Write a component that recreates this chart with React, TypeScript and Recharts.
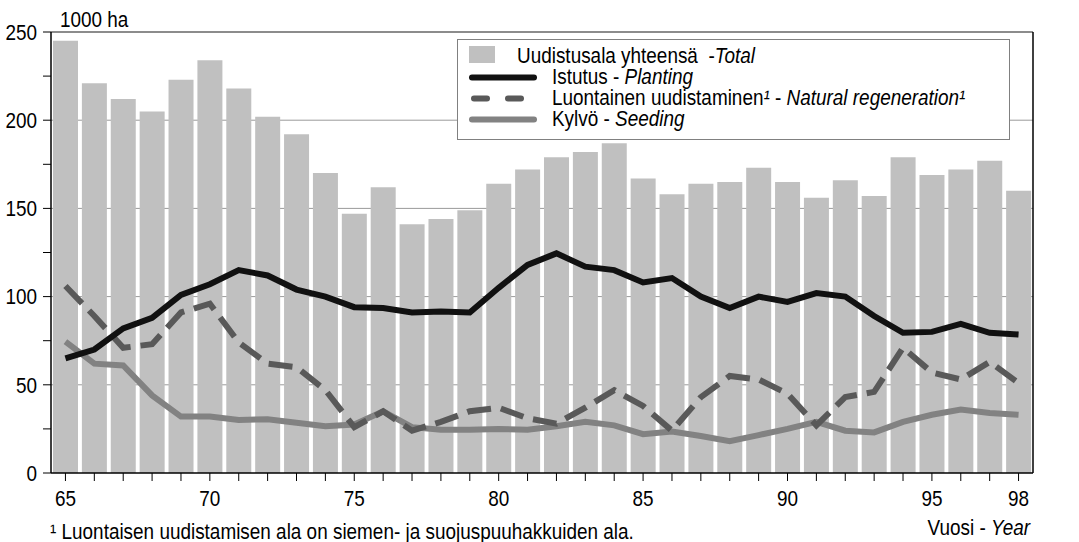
import React from 'react';
import { ComposedChart, Bar, Line, XAxis, YAxis, CartesianGrid, ReferenceLine } from 'recharts';

const years = ['65','66','67','68','69','70','71','72','73','74','75','76','77','78','79','80','81','82','83','84','85','86','87','88','89','90','91','92','93','94','95','96','97','98'];
const total = [245,221,212,205,223,234,218,202,192,170,147,162,141,144,149,164,172,179,182,187,167,158,164,165,173,165,156,166,157,179,169,172,177,160];
const planting = [65,70,82,88,101,107,115,112,104,100,94,93.5,91,91.5,91,105,118,124.5,117,115,108,110.5,100,93.5,100,97,102,100,89,79.5,80,84.5,79.5,78.5];
const natural = [106,89,71,73,91,96,74,62,60,47,26,35,24,29,35,37,31,28,37,47,38,24,43,55,53,45,27,43,46,71,57,53,63,51];
const seeding = [74.5,62,61,44,32,32,30,30.5,28.5,26.5,27.5,35,26,24.5,24.5,25,24.5,26.5,29,27,22,23.5,21,18,21.5,25,29,24,23,29,33,36,34,33];
const labeledYears = ['65','70','75','80','85','90','95','98'];
const yTicks = [0,25,50,75,100,125,150,175,200,225,250];
const gridValues = [50,100,150,200];

const data = years.map((y, i) => ({ year: y, total: total[i], planting: planting[i], natural: natural[i], seeding: seeding[i] }));

const FONT = "'Liberation Sans', Arial, sans-serif";
const FS = 21.5;
const SX = 0.88;
const BAR = '#c0c0c0';
const C_PLANT = '#111111';
const C_NAT = '#595959';
const C_SEED = '#828282';

const NText = ({ x, y, anchor = 'start', dy, children }: any) => (
  <text transform={`translate(${x},${y}) scale(${SX},1)`} x={0} y={0} dy={dy} textAnchor={anchor} fontSize={FS} fill="#000" fontFamily={FONT}>
    {children}
  </text>
);

const XTick = (props: any) => {
  const { x, y, payload } = props;
  const v = String(payload.value);
  if (!labeledYears.includes(v)) return <g />;
  return <NText x={x} y={y} anchor="middle" dy="0.716em">{v}</NText>;
};

const YTickLeft = (props: any) => {
  const { x, y, payload } = props;
  const v = Number(payload.value);
  if (v % 50 !== 0) return <g />;
  return <NText x={x} y={y} anchor="end" dy="0.36em">{String(v)}</NText>;
};

const YTickRight = (props: any) => {
  const { x, y, payload } = props;
  const v = Number(payload.value);
  if (v % 50 !== 0) return <g />;
  return <NText x={x} y={y} anchor="start" dy="0.36em">{String(v)}</NText>;
};

const LegendBox = () => (
  <svg width={554} height={102} style={{ display: 'block' }}>
    <rect x={0.5} y={0.5} width={552} height={100} fill="#fff" stroke="#808080" />
    <rect x={12} y={7} width={26} height={17} fill={BAR} />
    <NText x={60} y={24}>Uudistusala yhteensä{'\u00a0'} -<tspan fontStyle="italic">Total</tspan></NText>
    <line x1={15} x2={77} y1={38.5} y2={38.5} stroke={C_PLANT} strokeWidth={6} strokeLinecap="round" />
    <NText x={95} y={45}>Istutus - <tspan fontStyle="italic">Planting</tspan></NText>
    <line x1={17} x2={30} y1={59.5} y2={59.5} stroke={C_NAT} strokeWidth={6} strokeLinecap="round" />
    <line x1={51} x2={64} y1={59.5} y2={59.5} stroke={C_NAT} strokeWidth={6} strokeLinecap="round" />
    <NText x={95} y={66}>Luontainen uudistaminen<tspan fontStyle="italic">¹</tspan> - <tspan fontStyle="italic">Natural regeneration¹</tspan></NText>
    <line x1={15} x2={77} y1={80.5} y2={80.5} stroke={C_SEED} strokeWidth={6} strokeLinecap="round" />
    <NText x={95} y={87}>Kylvö - <tspan fontStyle="italic">Seeding</tspan></NText>
  </svg>
);

export default function App() {
  return (
    <div style={{ position: 'absolute', left: 0, top: 0, width: 1079, height: 542, background: '#fff', fontFamily: FONT }}>
      <ComposedChart width={1079} height={542} data={data} margin={{ top: 32, right: 0, bottom: 0, left: 0 }} barSize={25}>
        <CartesianGrid vertical={false} stroke="#9a9a9a" yAxisId="left" horizontalValues={gridValues} />
        <XAxis
          dataKey="year"
          interval={0}
          height={69}
          tickSize={8}
          tickMargin={10}
          stroke="#000"
          tickLine={{ stroke: '#000' }}
          axisLine={{ stroke: '#000', strokeWidth: 1.5 }}
          tick={<XTick />}
        />
        <YAxis
          yAxisId="left"
          orientation="left"
          width={51}
          domain={[0, 250]}
          ticks={yTicks}
          interval={0}
          tickSize={8}
          tickMargin={6}
          stroke="#000"
          axisLine={{ stroke: '#000', strokeWidth: 1.5 }}
          tickLine={{ stroke: '#000' }}
          tick={<YTickLeft />}
        />
        <YAxis
          yAxisId="right"
          orientation="right"
          width={46}
          domain={[0, 250]}
          ticks={yTicks}
          interval={0}
          tickSize={9}
          tickMargin={2}
          stroke="#000"
          axisLine={{ stroke: '#000', strokeWidth: 1.5 }}
          tickLine={{ stroke: '#000' }}
          tick={<YTickRight />}
        />
        <ReferenceLine yAxisId="left" y={250} stroke="#666" strokeWidth={1.5} />
        <Bar yAxisId="left" dataKey="total" fill={BAR} isAnimationActive={false} />
        <Line yAxisId="left" dataKey="seeding" stroke={C_SEED} strokeWidth={6} dot={false} isAnimationActive={false} />
        <Line yAxisId="left" dataKey="natural" stroke={C_NAT} strokeWidth={6} strokeDasharray="24 10" dot={false} isAnimationActive={false} />
        <Line yAxisId="left" dataKey="planting" stroke={C_PLANT} strokeWidth={6} dot={false} isAnimationActive={false} />
      </ComposedChart>
      <div style={{ position: 'absolute', left: 457, top: 39, width: 554, height: 102 }}>
        <LegendBox />
      </div>
      <svg width={1079} height={542} style={{ position: 'absolute', left: 0, top: 0, pointerEvents: 'none' }}>
        <NText x={60} y={27}>1000 ha</NText>
        <NText x={1030} y={535} anchor="end">Vuosi - <tspan fontStyle="italic">Year</tspan></NText>
        <NText x={50} y={539}>¹ Luontaisen uudistamisen ala on siemen- ja suojuspuuhakkuiden ala.</NText>
      </svg>
    </div>
  );
}
